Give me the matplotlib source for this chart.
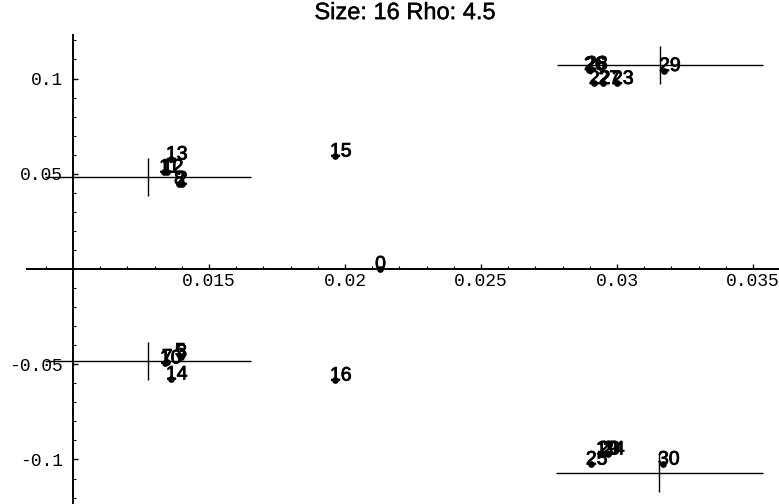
import matplotlib
matplotlib.use("Agg")
import matplotlib.pyplot as plt
import matplotlib.patheffects as pe
import numpy as np
from matplotlib.ticker import FixedLocator

# point index labels and coordinates
labels = [0, 15, 16,
          13, 11, 12, 8, 2,
          14, 10, 7, 5, 3,
          26, 28, 22, 27, 23, 29,
          25, 19, 20, 24, 30]
xs = [0.02129, 0.01963, 0.01963,
      0.01360, 0.01335, 0.01345, 0.01390, 0.01400,
      0.01360, 0.01338, 0.01345, 0.01393, 0.01398,
      0.02897, 0.02905, 0.02915, 0.02950, 0.03000, 0.03173,
      0.02904, 0.02941, 0.02950, 0.02967, 0.03169]
ys = [0.0, 0.0593, -0.0583,
      0.0577, 0.0509, 0.0509, 0.0446, 0.0446,
      -0.0577, -0.0493, -0.0488, -0.0457, -0.0462,
      0.1047, 0.1050, 0.0974, 0.0974, 0.0974, 0.1042,
      -0.1024, -0.0971, -0.0971, -0.0971, -0.1024]

# cluster centres and spreads
cx = [0.01276, 0.01276, 0.03158, 0.03156]
cy = [0.0483, -0.0483, 0.1071, -0.1071]
sx = [0.0038, 0.0038, 0.0038, 0.0038]
sy = [0.010, 0.010, 0.010, 0.010]

xticks = [0.015, 0.02, 0.025, 0.03, 0.035]
xtick_labels = ["0.015", "0.02", "0.025", "0.03", "0.035"]
yticks = [-0.1, -0.05, 0.05, 0.1]
ytick_labels = ["-0.1", "-0.05", "0.05", "0.1"]

fig = plt.figure(figsize=(7.79, 5.04), dpi=100)
ax = fig.add_axes([0, 0, 1, 1])
ax.set_xlim(0.007316, 0.035956)
ax.set_ylim(-0.12336, 0.14121)
ax.patch.set_visible(False)

# axes crossing at (0.01, 0)
for s in ("top", "right"):
    ax.spines[s].set_visible(False)
ax.spines["left"].set_position(("data", 0.01))
ax.spines["bottom"].set_position(("data", 0.0))
ax.spines["left"].set_bounds(-0.1228, 0.1228)
ax.spines["bottom"].set_bounds(0.00831, 0.035956)
ax.spines["left"].set_linewidth(1.4)
ax.spines["bottom"].set_linewidth(1.4)

ax.xaxis.set_major_locator(FixedLocator(xticks))
ax.set_xticklabels(xtick_labels)
ax.xaxis.set_minor_locator(FixedLocator(np.arange(9, 36) / 1000))
ax.yaxis.set_major_locator(FixedLocator(yticks))
ax.set_yticklabels(ytick_labels)
ax.yaxis.set_minor_locator(FixedLocator(np.arange(-12, 13) / 100))
ax.tick_params(which="major", direction="in", length=3.5, width=1.0)
ax.tick_params(which="minor", direction="in", length=2.0, width=0.8)
ax.tick_params(axis="x", pad=3)
ax.tick_params(axis="y", pad=7)
for t in ax.get_xticklabels() + ax.get_yticklabels():
    t.set_family("Liberation Mono")
    t.set_fontsize(13)

ax.errorbar(cx, cy, xerr=sx, yerr=sy, fmt="none", ecolor="k",
            elinewidth=1.0, capsize=0)

ax.plot(xs, ys, "o", color="k", ms=3.8, zorder=3)
heavy = [pe.withStroke(linewidth=0.6, foreground="k")]
for lab, x, y in zip(labels, xs, ys):
    ax.annotate(str(lab), (x, y), xytext=(-3.6, 2.9), textcoords="offset points",
                ha="left", va="center", fontsize=14, family="Liberation Sans",
                path_effects=heavy)

fig.text(0.52, 0.974, "Size: 16 Rho: 4.5", ha="center", va="center",
         fontsize=17, family="Liberation Sans",
         path_effects=[pe.withStroke(linewidth=0.3, foreground="k")])

fig.savefig("out.png", dpi=100)
